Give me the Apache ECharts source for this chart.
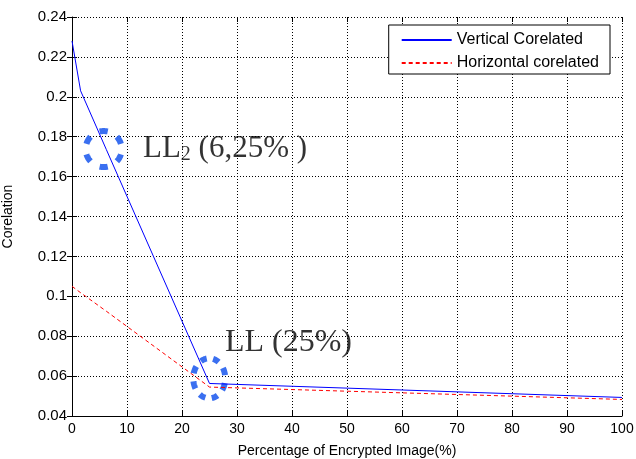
<!DOCTYPE html>
<html><head><meta charset="utf-8">
<script src="https://cdn.jsdelivr.net/npm/echarts@6/dist/echarts.min.js"></script>
<style>html,body{margin:0;padding:0;background:#fff}#c{width:636px;height:459px}</style>
</head><body><div id="c"></div>
<script>
const xPercent = [0, 1.5625, 6.25, 25, 100];
const verticalCorr = [0.228, 0.203, 0.1735, 0.0563, 0.0493];
const horizontalCorr = [0.105, 0.1018, 0.0925, 0.0545, 0.0483];
const yTicks = [0.04, 0.06, 0.08, 0.1, 0.12, 0.14, 0.16, 0.18, 0.2, 0.22, 0.24];
// highlight rings: centre (x %, correlation)
const ringCenters = [[5.76, 0.1738], [24.95, 0.0589]];
const notes = [[12.9, 0.1738, 'LL2'], [27.8, 0.077, 'LL']];
// ring styles: [rx, ry, dash count, first dash angle, dash half-angle]
const ringStyles = [[18, 18, 6, 30, 13], [16, 20, 8, 25, 11]];

const chart = echarts.init(document.getElementById('c'));
const font = 'Liberation Sans, Arial, sans-serif';
const serif = 'Liberation Serif, Times New Roman, serif';

function ringDashes(cx, cy, st) {
  const [rx, ry, n, a0, h] = st;
  const children = [];
  for (let k = 0; k < n; k++) {
    const mid = a0 + k * 360 / n;
    const pts = [];
    for (let a = mid - h; a <= mid + h + 0.01; a += 2) {
      const t = a * Math.PI / 180;
      pts.push([cx + rx * Math.cos(t), cy + ry * Math.sin(t)]);
    }
    children.push({type: 'polyline', shape: {points: pts},
      style: {fill: null, stroke: '#3a6ff0', lineWidth: 6, lineCap: 'butt'}});
  }
  return children;
}

chart.setOption({
  animation: false,
  backgroundColor: '#fff',
  grid: {left: 72, right: 14, top: 17, bottom: 43, show: false, containLabel: false, outerBoundsMode: 'none'},
  legend: {
    data: ['Vertical Corelated', 'Horizontal corelated'],
    orient: 'vertical', right: 26, top: 25,
    backgroundColor: '#fff', borderColor: '#000', borderWidth: 1,
    padding: [7, 11, 3, 12], itemGap: 7, itemWidth: 50, itemHeight: 16,
    itemStyle: {opacity: 0},
    textStyle: {fontFamily: font, fontSize: 16, color: '#000'}
  },
  xAxis: [{
    type: 'value', min: 0, max: 100, interval: 10,
    name: 'Percentage of Encrypted Image(%)', nameLocation: 'middle', nameGap: 28,
    nameTextStyle: {fontFamily: font, fontSize: 14, color: '#000'},
    axisLine: {lineStyle: {color: '#000', width: 1}},
    axisTick: {inside: true, length: 5, lineStyle: {color: '#000'}},
    axisLabel: {fontFamily: font, fontSize: 14, color: '#000', margin: 6},
    splitLine: {show: true, lineStyle: {color: '#000', type: [1, 2], width: 1}}
  }, {
    type: 'value', min: 0, max: 100, interval: 10, position: 'top',
    axisLine: {show: false}, axisLabel: {show: false},
    axisTick: {inside: true, length: 5, lineStyle: {color: '#000'}},
    splitLine: {show: false}
  }],
  yAxis: [{
    type: 'value', min: 0.04, max: 0.24, interval: 0.02,
    name: 'Corelation', nameLocation: 'middle', nameGap: 57,
    nameTextStyle: {fontFamily: font, fontSize: 14, color: '#000'},
    axisLine: {show: true, lineStyle: {color: '#000', width: 1}},
    axisTick: {show: true, inside: true, length: 5, lineStyle: {color: '#000'}},
    axisLabel: {fontFamily: font, fontSize: 15, color: '#000', margin: 5,
      formatter: v => String(parseFloat(v.toFixed(2)))},
    splitLine: {show: true, lineStyle: {color: '#000', type: [1, 2], width: 1}}
  }, {
    type: 'value', min: 0.04, max: 0.24, interval: 0.02, position: 'right',
    axisLine: {show: false}, axisLabel: {show: false},
    axisTick: {show: true, inside: true, length: 5, lineStyle: {color: '#000'}},
    splitLine: {show: false}
  }],
  series: [
    {name: 'Vertical Corelated', type: 'line', symbol: 'none', showSymbol: false,
     data: xPercent.map((x, i) => [x, verticalCorr[i]]),
     lineStyle: {color: '#0000ff', width: 1}, itemStyle: {color: '#0000ff'}, z: 3},
    {name: 'Horizontal corelated', type: 'line', symbol: 'none', showSymbol: false,
     data: xPercent.map((x, i) => [x, horizontalCorr[i]]),
     lineStyle: {color: '#ff0000', width: 1, type: [4, 3]}, itemStyle: {color: '#ff0000'}, z: 3},
    {name: 'rings', type: 'custom', silent: true, z: 2,
     data: ringCenters,
     renderItem: (params, api) => {
       const c = api.coord([api.value(0), api.value(1)]);
       return {type: 'group', children: ringDashes(c[0], c[1], ringStyles[params.dataIndex])};
     }},
    {name: 'notes', type: 'scatter', symbolSize: 0,
     data: notes.map(n => ({value: [n[0], n[1]], name: n[2]})),
     label: {show: true, position: [0, 0], align: 'left', verticalAlign: 'middle',
       formatter: p => p.name === 'LL2' ? '{a|LL}{s|2}{a| (6,25% )}' : '{b|LL (25%)}',
       rich: {
         a: {fontFamily: serif, fontSize: 31, color: '#000', lineHeight: 31},
         s: {fontFamily: serif, fontSize: 20, color: '#000', lineHeight: 14, verticalAlign: 'bottom'},
         b: {fontFamily: serif, fontSize: 32, color: '#000', lineHeight: 32}
       }},
     silent: true, z: 4}
  ]
});
</script></body></html>
